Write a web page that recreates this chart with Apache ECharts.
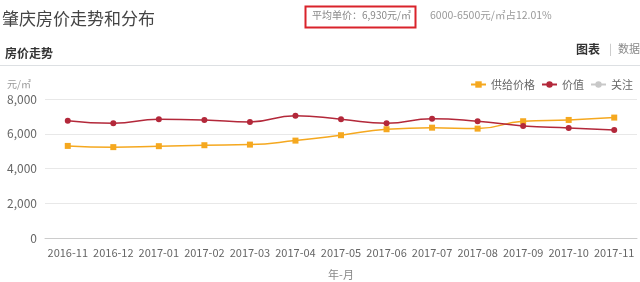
<!DOCTYPE html>
<html><head><meta charset="utf-8">
<script src="https://cdn.jsdelivr.net/npm/echarts@6/dist/echarts.min.js"></script>
<style>html,body{margin:0;padding:0;background:#fff}#c{width:640px;height:282px}</style>
</head><body><div id="c"></div>
<script>
var categories = ['2016-11','2016-12','2017-01','2017-02','2017-03','2017-04','2017-05','2017-06','2017-07','2017-08','2017-09','2017-10','2017-11'];
var supplyPrice = [5300,5230,5285,5340,5375,5605,5915,6260,6350,6295,6720,6795,6930];
var valuePrice = [6755,6605,6835,6795,6680,7040,6835,6605,6870,6720,6450,6335,6220];
var followData = [];
var yTicks = [0,2000,4000,6000,8000];

var F = '"Noto Sans CJK SC", "Microsoft YaHei", sans-serif';
var chart = echarts.init(document.getElementById('c'));
chart.setOption({
  animation: false,
  textStyle: {fontFamily: F},
  title: [
    {text: '肇庆房价走势和分布', left: -3, top: 5, textStyle: {fontSize: 17, fontWeight: 'normal', color: '#444', fontFamily: F}},
    {text: '房价走势', left: 0, top: 42, textStyle: {fontSize: 12, fontWeight: 'bold', color: '#333', fontFamily: F}}
  ],
  graphic: [
    {type: 'rect', shape: {x: 305.5, y: 6.5, width: 110, height: 21}, style: {fill: 'none', stroke: '#d9232b', lineWidth: 2}},
    {type: 'text', left: 312, top: 10, style: {text: '平均单价：6,930元/㎡', fill: '#888', font: '10px ' + F}},
    {type: 'text', left: 430, top: 10, style: {text: '6000-6500元/㎡占12.01%', fill: '#999', font: '10.5px ' + F}},
    {type: 'text', right: 40, top: 43, style: {text: '图表', fill: '#333', font: 'bold 12px ' + F}},
    {type: 'text', right: 28, top: 43, style: {text: '|', fill: '#bbb', font: '11px ' + F}},
    {type: 'text', right: 0, top: 43, style: {text: '数据', fill: '#888', font: '11px ' + F}},
    {type: 'rect', shape: {x: 0, y: 65, width: 640, height: 1}, style: {fill: '#dde0e3'}}
  ],
  legend: {
    right: 2, top: 74, itemWidth: 15, itemHeight: 8, itemGap: 6,
    textStyle: {color: '#666', fontSize: 11},
    data: ['供给价格','价值','关注']
  },
  grid: {left: 45, right: 3, top: 99, bottom: 44, containLabel: false},
  xAxis: {
    type: 'category', data: categories, boundaryGap: true,
    name: '年-月', nameLocation: 'middle', nameGap: 31,
    nameTextStyle: {color: '#888', fontSize: 11},
    axisLine: {lineStyle: {color: '#ccc'}},
    axisTick: {alignWithLabel: true, lineStyle: {color: '#ccc'}},
    axisLabel: {color: '#666', fontSize: 11, margin: 9, interval: 0}
  },
  yAxis: {
    type: 'value', min: 0, max: 8000, interval: 2000,
    name: '元/㎡', nameLocation: 'end', nameGap: 10,
    nameTextStyle: {color: '#999', fontSize: 10, align: 'right', padding: [0, 14, 0, 0]},
    axisLine: {show: false}, axisTick: {show: false},
    axisLabel: {color: '#666', fontSize: 12, margin: 8, formatter: function (v) { return yTicks.indexOf(v) >= 0 ? v.toLocaleString('en-US') : ''; }},
    splitLine: {lineStyle: {color: '#e8e8e8'}}
  },
  series: [
    {name: '供给价格', type: 'line', smooth: true, data: supplyPrice, symbol: 'rect', symbolSize: 6,
     itemStyle: {color: '#f5a81f'}, lineStyle: {color: '#f5a81f', width: 1.5}},
    {name: '价值', type: 'line', smooth: true, data: valuePrice, symbol: 'circle', symbolSize: 6,
     itemStyle: {color: '#b3283a'}, lineStyle: {color: '#b3283a', width: 1.5}},
    {name: '关注', type: 'line', data: followData, symbol: 'circle', symbolSize: 5,
     itemStyle: {color: '#c8c8c8'}, lineStyle: {color: '#c8c8c8', width: 1.5}}
  ]
});
</script></body></html>
